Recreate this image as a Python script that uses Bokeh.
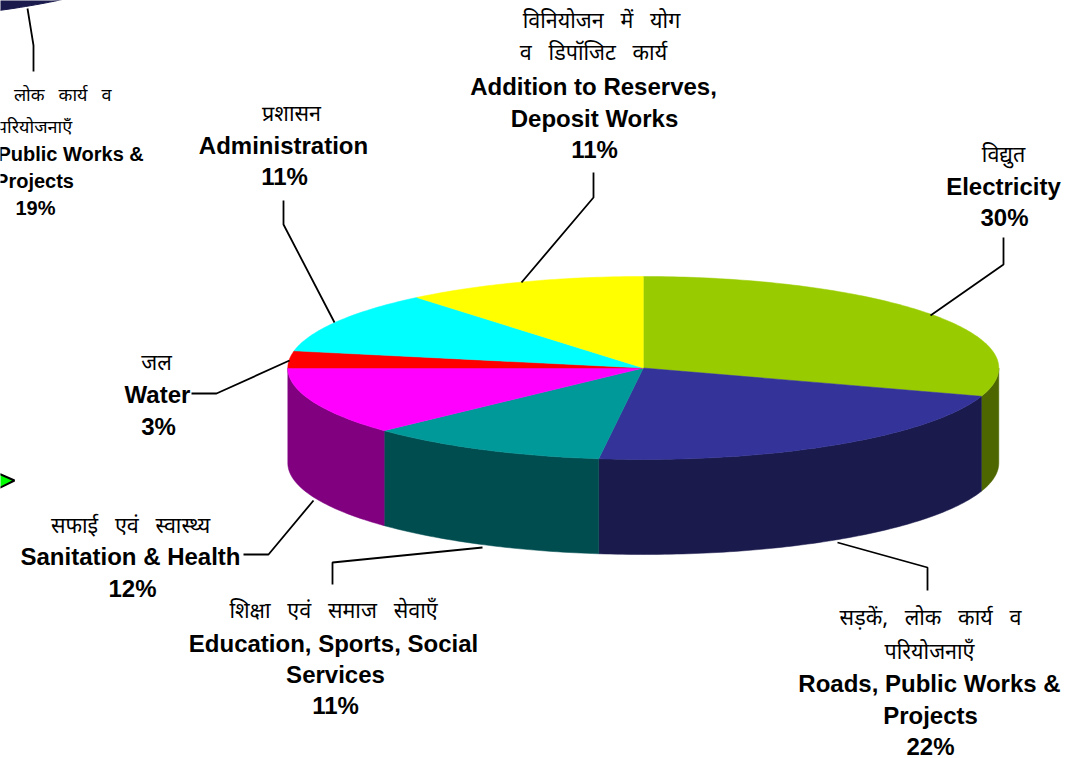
import math
from bokeh.plotting import figure
from bokeh.models import Range1d
from bokeh.core.properties import value
from bokeh.embed import file_html
from bokeh.resources import INLINE

# ---- data ----
categories = ["Electricity", "Roads, Public Works & Projects", "Education, Sports, Social Services",
              "Sanitation & Health", "Water", "Administration", "Addition to Reserves, Deposit Works"]
shares = [30, 22, 11, 12, 3, 11, 11]

NB = "\u00a0\u00a0\u00a0"
label_texts = [
    f"विनियोजन{NB}में{NB}योग", f"व{NB}डिपॉजिट{NB}कार्य", "Addition to Reserves,", "Deposit Works", "11%",
    "प्रशासन", "Administration", "11%",
    "विद्युत", "Electricity", "30%",
    "जल", "Water", "3%",
    f"सफाई{NB}एवं{NB}स्वास्थ्य", "Sanitation & Health", "12%",
    f"शिक्षा{NB}एवं{NB}समाज{NB}सेवाएँ", "Education, Sports, Social", "Services", "11%",
    f"सड़कें,{NB}लोक{NB}कार्य{NB}व", "परियोजनाएँ", "Roads, Public Works &", "Projects", "22%",
    f"सड़कें,{NB}लोक{NB}कार्य{NB}व", "परियोजनाएँ", "Roads, Public Works &", "Projects", "19%",
]

# ---- styling and layout ----
top_colors = ["#99CC00", "#333399", "#009999", "#FF00FF", "#FF0000", "#00FFFF", "#FFFF00"]
side_colors = ["#4D6600", "#1A1A4D", "#004D50", "#800080", "#800000", "#008080", "#808000"]

EN = "Liberation Sans"
HI = "Noto Sans Devanagari, Noto Sans, Lohit Devanagari, FreeSerif, sans-serif"

# x, y, style key for each entry of label_texts
label_layout = [
    (601, 22, "hi"), (593, 54, "hi"), (593, 86, "en"), (594, 118, "en"), (594, 149, "en"),
    (291, 115, "hi"), (283, 145, "en"), (284, 176, "en"),
    (1003, 156, "hi"), (1003, 186, "en"), (1004, 217, "en"),
    (156, 364, "hi"), (157, 394, "en"), (158, 426, "en"),
    (130, 527, "hi"), (130, 556, "en"), (132, 588, "en"),
    (333, 612, "hi"), (333, 643, "en"), (335, 674, "en"), (335, 705, "en"),
    (930, 619, "hi"), (929, 653, "hi"), (929, 683, "en"), (930, 715, "en"), (930, 746, "en"),
    (35, 96, "hi_small"), (34, 128, "hi_small"), (34, 153, "en_small"), (34, 180, "en_small"), (35, 207, "en_small"),
]
styles = {
    "en": dict(text_font=value(EN), text_font_style="bold", text_font_size="24px"),
    "en_small": dict(text_font=value(EN), text_font_style="bold", text_font_size="20px"),
    "hi": dict(text_font=value(HI), text_font_size="21.5px"),
    "hi_small": dict(text_font=value(HI), text_font_size="18px"),
}

leaders = [
    ([1003, 1003, 930], [237, 264, 315]),
    ([593, 593, 521], [172, 197, 282]),
    ([283, 283, 334], [200, 224, 322]),
    ([191, 216, 289], [393, 393, 360]),
    ([243, 268, 313], [554, 554, 500]),
    ([332, 332, 482], [584, 562, 547]),
    ([927, 927, 837], [590, 567, 542]),
    ([27, 33, 33], [8, 45, 71]),
]

# ---- geometry ----
CX, CY, RX, RY, DEPTH = 642.8, 367.5, 355.5, 91.5, 95
OTHER_CX, OTHER_CY = -167, -166   # the neighbouring chart cut off by the page corner


def ell(a, cx=CX, cy=CY):
    return cx + RX * math.cos(a), cy - RY * math.sin(a)


def arc(a0, a1, cx=CX, cy=CY):
    n = max(2, int(abs(a1 - a0) * 60))
    return [ell(a0 + (a1 - a0) * i / n, cx, cy) for i in range(n + 1)]


p = figure(width=1084, height=758, x_range=Range1d(0, 1084), y_range=Range1d(758, 0),
           output_backend="svg", toolbar_location=None, min_border=0,
           x_axis_location=None, y_axis_location=None, outline_line_color=None,
           background_fill_color="white", margin=(0, 0, 0, 0))
p.xgrid.visible = False
p.ygrid.visible = False

# slice angles, clockwise from 12 o'clock
total = sum(shares)
angles = [math.pi / 2]
for s in shares:
    angles.append(angles[-1] - 2 * math.pi * s / total)

# walls (only the front half of the rim is visible)
for i in range(len(shares)):
    hi, lo = angles[i], angles[i + 1]
    a0, a1 = min(hi, 0.0), max(lo, -math.pi)
    if a0 <= a1:
        continue
    top = arc(a0, a1)
    xs = [q[0] for q in top] + [q[0] for q in reversed(top)]
    ys = [q[1] for q in top] + [q[1] + DEPTH for q in reversed(top)]
    p.patch(xs, ys, fill_color=side_colors[i], line_color=side_colors[i], line_width=0.5)

# top faces
for i in range(len(shares)):
    pts = [(CX, CY)] + arc(angles[i], angles[i + 1])
    p.patch([q[0] for q in pts], [q[1] for q in pts], fill_color=top_colors[i],
            line_color=top_colors[i], line_width=0.5)

# rim of the neighbouring chart in the page corner
rim = arc(-math.radians(120), -math.radians(40), OTHER_CX, OTHER_CY)
p.patch([q[0] for q in rim] + [q[0] for q in reversed(rim)],
        [q[1] + DEPTH for q in rim] + [q[1] for q in reversed(rim)],
        fill_color="#1A1A4D", line_color="#1A1A4D")

# leaders
for xs, ys in leaders:
    p.line(xs, ys, line_color="black", line_width=1.8)

# green arrow tip at left edge
p.patch([-4, 14, -4], [472, 480, 489], fill_color="#00FF00", line_color="black", line_width=2)

# labels
for txt, (x, y, key) in zip(label_texts, label_layout):
    p.text([x], [y], text=[txt], text_color="black", text_align="center",
           text_baseline="alphabetic", **styles[key])

open("out.html", "w").write(file_html(p, INLINE))
